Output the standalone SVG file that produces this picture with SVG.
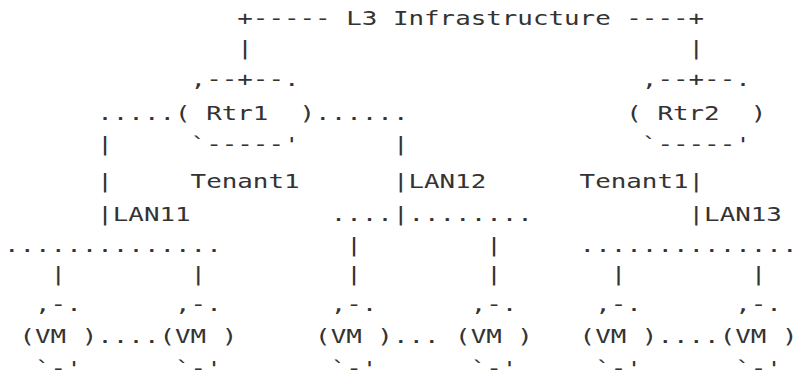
<svg xmlns="http://www.w3.org/2000/svg" width="798" height="381" viewBox="0 0 798 381">
  <style>
    text { font-family: "DejaVu Sans Mono", "Liberation Mono", monospace; font-size: 20px; fill: #333333; white-space: pre; }
  </style>
  <rect width="798" height="381" fill="#ffffff"/>

  <!-- character grid: column c starts at 3.9 + 15.56*c; each glyph run is stretched to its cell width -->

  <g id="l3-infrastructure">
    <text x="237.3" y="25" textLength="466.8" lengthAdjust="spacingAndGlyphs">+----- L3 Infrastructure ----+</text>
  </g>

  <g id="rtr1">
    <text x="190.62" y="86" textLength="108.92" lengthAdjust="spacingAndGlyphs">,--+--.</text>
    <text x="175.06" y="119.5" textLength="140.04" lengthAdjust="spacingAndGlyphs">( Rtr1  )</text>
    <text x="190.62" y="151" textLength="108.92" lengthAdjust="spacingAndGlyphs">`-----'</text>
  </g>

  <g id="rtr2">
    <text x="641.86" y="86" textLength="108.92" lengthAdjust="spacingAndGlyphs">,--+--.</text>
    <text x="626.3" y="119.5" textLength="140.04" lengthAdjust="spacingAndGlyphs">( Rtr2  )</text>
    <text x="641.86" y="151" textLength="108.92" lengthAdjust="spacingAndGlyphs">`-----'</text>
  </g>

  <g id="tenant-labels">
    <text x="190.62" y="188" textLength="108.92" lengthAdjust="spacingAndGlyphs">Tenant1</text>
    <text x="579.62" y="188" textLength="108.92" lengthAdjust="spacingAndGlyphs">Tenant1</text>
  </g>

  <g id="lan-labels">
    <text x="112.82" y="220.6" textLength="77.8" lengthAdjust="spacingAndGlyphs">LAN11</text>
    <text x="408.46" y="188" textLength="77.8" lengthAdjust="spacingAndGlyphs">LAN12</text>
    <text x="704.1" y="220.6" textLength="77.8" lengthAdjust="spacingAndGlyphs">LAN13</text>
  </g>

  <g id="connectors">
    <!-- uplinks to the L3 infrastructure -->
    <text x="237.3" y="54.6" textLength="15.56" lengthAdjust="spacingAndGlyphs">|</text>
    <text x="688.54" y="54.6" textLength="15.56" lengthAdjust="spacingAndGlyphs">|</text>
    <!-- Rtr1 LAN attachments -->
    <text x="97.26" y="119.5" textLength="77.8" lengthAdjust="spacingAndGlyphs">.....</text>
    <text x="315.1" y="119.5" textLength="93.36" lengthAdjust="spacingAndGlyphs">......</text>
    <text x="97.26" y="151" textLength="15.56" lengthAdjust="spacingAndGlyphs">|</text>
    <text x="392.9" y="151" textLength="15.56" lengthAdjust="spacingAndGlyphs">|</text>
    <text x="97.26" y="188" textLength="15.56" lengthAdjust="spacingAndGlyphs">|</text>
    <text x="392.9" y="188" textLength="15.56" lengthAdjust="spacingAndGlyphs">|</text>
    <text x="688.54" y="188" textLength="15.56" lengthAdjust="spacingAndGlyphs">|</text>
    <text x="97.26" y="220.6" textLength="15.56" lengthAdjust="spacingAndGlyphs">|</text>
    <text x="330.66" y="220.6" textLength="202.28" lengthAdjust="spacingAndGlyphs">....|........</text>
    <text x="688.54" y="220.6" textLength="15.56" lengthAdjust="spacingAndGlyphs">|</text>
    <!-- LAN segments -->
    <text x="3.9" y="251.5" textLength="217.84" lengthAdjust="spacingAndGlyphs">..............</text>
    <text x="346.22" y="251.5" textLength="15.56" lengthAdjust="spacingAndGlyphs">|</text>
    <text x="486.26" y="251.5" textLength="15.56" lengthAdjust="spacingAndGlyphs">|</text>
    <text x="579.62" y="251.5" textLength="217.84" lengthAdjust="spacingAndGlyphs">..............</text>
    <!-- drops to the VMs -->
    <text x="50.58" y="281" textLength="15.56" lengthAdjust="spacingAndGlyphs">|</text>
    <text x="190.62" y="281" textLength="15.56" lengthAdjust="spacingAndGlyphs">|</text>
    <text x="346.22" y="281" textLength="15.56" lengthAdjust="spacingAndGlyphs">|</text>
    <text x="486.26" y="281" textLength="15.56" lengthAdjust="spacingAndGlyphs">|</text>
    <text x="610.74" y="281" textLength="15.56" lengthAdjust="spacingAndGlyphs">|</text>
    <text x="750.78" y="281" textLength="15.56" lengthAdjust="spacingAndGlyphs">|</text>
    <!-- VM to VM links -->
    <text x="97.26" y="342.5" textLength="62.24" lengthAdjust="spacingAndGlyphs">....</text>
    <text x="392.9" y="342.5" textLength="46.68" lengthAdjust="spacingAndGlyphs">...</text>
    <text x="657.42" y="342.5" textLength="62.24" lengthAdjust="spacingAndGlyphs">....</text>
  </g>

  <g id="vm1">
    <text x="35.02" y="311" textLength="46.68" lengthAdjust="spacingAndGlyphs">,-.</text>
    <text x="19.46" y="342.5" textLength="77.8" lengthAdjust="spacingAndGlyphs">(VM )</text>
    <text x="35.02" y="375" textLength="46.68" lengthAdjust="spacingAndGlyphs">`-'</text>
  </g>
  <g id="vm2">
    <text x="175.06" y="311" textLength="46.68" lengthAdjust="spacingAndGlyphs">,-.</text>
    <text x="159.5" y="342.5" textLength="77.8" lengthAdjust="spacingAndGlyphs">(VM )</text>
    <text x="175.06" y="375" textLength="46.68" lengthAdjust="spacingAndGlyphs">`-'</text>
  </g>
  <g id="vm3">
    <text x="330.66" y="311" textLength="46.68" lengthAdjust="spacingAndGlyphs">,-.</text>
    <text x="315.1" y="342.5" textLength="77.8" lengthAdjust="spacingAndGlyphs">(VM )</text>
    <text x="330.66" y="375" textLength="46.68" lengthAdjust="spacingAndGlyphs">`-'</text>
  </g>
  <g id="vm4">
    <text x="470.7" y="311" textLength="46.68" lengthAdjust="spacingAndGlyphs">,-.</text>
    <text x="455.14" y="342.5" textLength="77.8" lengthAdjust="spacingAndGlyphs">(VM )</text>
    <text x="470.7" y="375" textLength="46.68" lengthAdjust="spacingAndGlyphs">`-'</text>
  </g>
  <g id="vm5">
    <text x="595.18" y="311" textLength="46.68" lengthAdjust="spacingAndGlyphs">,-.</text>
    <text x="579.62" y="342.5" textLength="77.8" lengthAdjust="spacingAndGlyphs">(VM )</text>
    <text x="595.18" y="375" textLength="46.68" lengthAdjust="spacingAndGlyphs">`-'</text>
  </g>
  <g id="vm6">
    <text x="735.22" y="311" textLength="46.68" lengthAdjust="spacingAndGlyphs">,-.</text>
    <text x="719.66" y="342.5" textLength="77.8" lengthAdjust="spacingAndGlyphs">(VM )</text>
    <text x="735.22" y="375" textLength="46.68" lengthAdjust="spacingAndGlyphs">`-'</text>
  </g>
</svg>
